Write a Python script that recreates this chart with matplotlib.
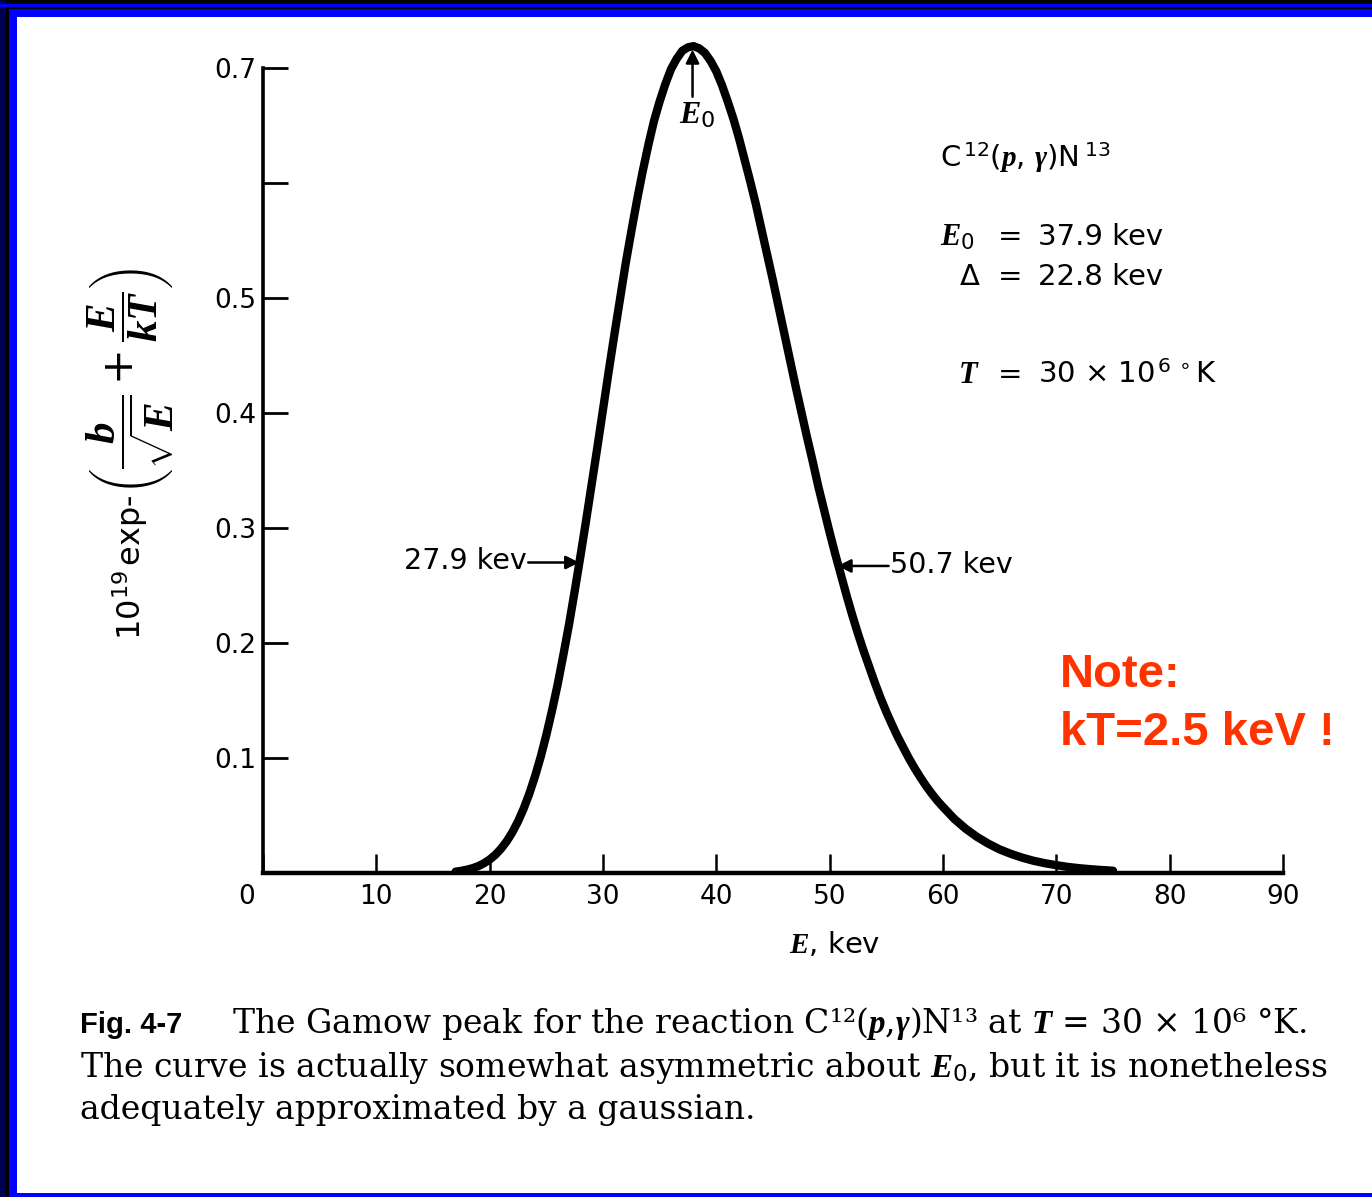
import matplotlib
matplotlib.use("Agg")
import matplotlib.pyplot as plt
import matplotlib.transforms as mtransforms
from matplotlib.patches import Rectangle

plt.rcParams['font.family'] = ['DejaVu Sans']
plt.rcParams['mathtext.fontset'] = 'custom'
plt.rcParams['mathtext.rm'] = 'DejaVu Sans'
plt.rcParams['mathtext.sf'] = 'DejaVu Sans'
plt.rcParams['mathtext.it'] = 'Liberation Serif:italic:bold'
plt.rcParams['mathtext.bf'] = 'Liberation Serif:bold'

# Gamow peak for C12(p,gamma)N13 at T = 30e6 K  (energy in keV, 1e19 * exp-(b/sqrt(E) + E/kT))
energy_kev = [17, 17.5, 18, 18.5, 19, 19.5, 20, 20.5, 21, 21.5, 22, 22.5, 23, 23.5,
              24, 24.5, 25, 25.5, 26, 26.5, 27, 27.5, 28, 28.5, 29, 29.5, 30, 30.5,
              31, 31.5, 32, 32.5, 33, 33.5, 34, 34.5, 35, 35.5, 36, 36.5, 37, 37.5,
              38, 38.5, 39, 39.5, 40, 40.5, 41, 41.5, 42, 42.5, 43, 43.5, 44, 44.5,
              45, 45.5, 46, 46.5, 47, 47.5, 48, 48.5, 49, 49.5, 50, 50.5, 51, 51.5,
              52, 52.5, 53, 53.5, 54, 54.5, 55, 55.5, 56, 56.5, 57, 57.5, 58, 58.5,
              59, 59.5, 60, 61, 62, 63, 64, 65, 66, 67, 68, 69, 70, 71, 72, 73, 74,
              75]
gamow = [0.0012, 0.0019, 0.0029, 0.0042, 0.0060, 0.0085, 0.0117, 0.0158, 0.0211,
         0.0275, 0.0354, 0.0448, 0.0560, 0.0690, 0.0840, 0.1009, 0.120, 0.1412,
         0.164, 0.1895, 0.216, 0.245, 0.275, 0.306, 0.338, 0.370, 0.403, 0.436,
         0.468, 0.499, 0.530, 0.558, 0.585, 0.610, 0.633, 0.654, 0.671, 0.686,
         0.699, 0.708, 0.715, 0.718, 0.719, 0.717, 0.713, 0.706, 0.697, 0.685,
         0.671, 0.656, 0.639, 0.620, 0.601, 0.581, 0.559, 0.537, 0.515, 0.492,
         0.469, 0.446, 0.423, 0.401, 0.379, 0.358, 0.336, 0.316, 0.296, 0.277,
         0.259, 0.241, 0.224, 0.208, 0.193, 0.179, 0.165, 0.152, 0.140, 0.129,
         0.1185, 0.109, 0.0996, 0.0911, 0.0832, 0.0758, 0.0691, 0.0629, 0.0574,
         0.0470, 0.0385, 0.0314, 0.0255, 0.0205, 0.0166, 0.0133, 0.0106, 0.0085,
         0.0068, 0.0053, 0.0042, 0.0033, 0.0026, 0.0020]

x_ticks = [0, 10, 20, 30, 40, 50, 60, 70, 80, 90]
x_tick_labels = ['0', '10', '20', '30', '40', '50', '60', '70', '80', '90']
y_ticks = [0.1, 0.2, 0.3, 0.4, 0.5, 0.6, 0.7]
y_tick_labels = ['0.1', '0.2', '0.3', '0.4', '0.5', '', '0.7']

e_peak = 37.9
e_low, e_high = 27.9, 50.7
level_1e = 0.27

W, H = 1372, 1197
fig = plt.figure(figsize=(W / 100, H / 100), dpi=100)
fig.patch.set_facecolor('black')


def px_rect(x0, y0, x1, y1, color, z):
    fig.add_artist(Rectangle((x0 / W, 1 - y1 / H), (x1 - x0) / W, (y1 - y0) / H,
                             transform=fig.transFigure, facecolor=color,
                             edgecolor='none', zorder=z))


def ftext(x, y, s, **kw):
    return fig.text(x / W, 1 - y / H, s, **kw)


# slide frame
px_rect(0, 0, 6, H, '#000050', -30)
px_rect(0, 4, W, 6.5, '#0000ff', -29)
px_rect(9, 9, W, H, '#0000ff', -28)
px_rect(17, 16.5, W, 1193, 'white', -27)

# axes: E = 0..90 between x=263 and x=1283 px, y = 0 at 873 px, 1150 px per unit
y_scale = 1150.0
y_top = 0.75
ax = fig.add_axes([263 / W, (H - 873) / H, 1020 / W, y_top * y_scale / H])
ax.set_facecolor('none')
ax.set_xlim(0, 90)
ax.set_ylim(0, y_top)

ax.plot(energy_kev, gamow, color='black', lw=6.0, solid_joinstyle='round',
        solid_capstyle='round', zorder=3)

for side in ('top', 'right'):
    ax.spines[side].set_visible(False)
ax.spines['left'].set_bounds(0, 0.7)
ax.spines['left'].set_linewidth(2.6)
ax.spines['bottom'].set_linewidth(3.2)

ax.set_xticks(x_ticks)
ax.set_xticklabels(x_tick_labels)
ax.set_yticks(y_ticks)
ax.set_yticklabels(y_tick_labels)
ax.tick_params(axis='x', direction='in', length=14, width=1.8, pad=8, labelsize=19)
ax.tick_params(axis='y', direction='in', length=18, width=2.0, pad=5, labelsize=19)

# the origin label sits just left of the corner
lbl0 = ax.get_xticklabels()[0]
lbl0.set_transform(lbl0.get_transform() +
                   mtransforms.ScaledTranslation(-16 / 100, 0, fig.dpi_scale_trans))

# peak and 1/e markers
arrow_kw = dict(arrowstyle='-|>', color='black', lw=1.8, mutation_scale=20,
                shrinkA=0, shrinkB=0)
ax.annotate('', xy=(e_peak, 0.716), xytext=(e_peak, 0.675), arrowprops=arrow_kw, zorder=4)
ax.text(38.3, 0.659, r'$E_{\mathsf{0}}$', fontsize=23, ha='center', va='center')

ax.annotate('', xy=(e_low, level_1e), xytext=(23.4, level_1e), arrowprops=arrow_kw)
ax.text(23.3, level_1e + 0.001, '27.9 kev', fontsize=20.5, ha='right', va='center')

ax.annotate('', xy=(e_high, level_1e - 0.003), xytext=(55.2, level_1e - 0.003),
            arrowprops=arrow_kw)
ax.text(55.3, level_1e - 0.002, '50.7 kev', fontsize=20.5, ha='left', va='center')

# reaction parameters
par_kw = dict(fontsize=21, ha='left', va='center')
ftext(940, 158, r'C$^{\,12}$($p$, $\gamma$)N$^{\;13}$', **par_kw)
ftext(940, 237, r'$E_{\mathsf{0}}$', fontsize=22, ha='left', va='center')
ftext(960, 277, 'Δ', **par_kw)
ftext(958, 375, r'$T$', fontsize=22, ha='left', va='center')
for y in (237, 277, 375):
    ftext(998, y, '=', **par_kw)
ftext(1038, 237, '37.9 kev', **par_kw)
ftext(1038, 277, '22.8 kev', **par_kw)
ftext(1038, 375, r'30 × 10$^{\,6\;\circ}$K', **par_kw)

ftext(1060, 675, 'Note:', fontsize=34, fontweight='bold', color='#ff3300',
      family='Liberation Sans', ha='left', va='center')
ftext(1060, 733, 'kT=2.5 keV !', fontsize=34, fontweight='bold', color='#ff3300',
      family='Liberation Sans', ha='left', va='center')

# axis titles
ftext(130, 640, r'$\mathsf{10^{19}\,exp}$-', fontsize=23, rotation=90,
      ha='center', va='bottom')
ftext(130, 495, r'$\left(\dfrac{b}{\sqrt{E}}+\dfrac{E}{kT}\right)$', fontsize=31,
      rotation=90, ha='center', va='bottom')
ftext(835, 945, r'$E$, kev', fontsize=21, ha='center', va='center')

# figure caption
cap_kw = dict(fontsize=23.8, family='DejaVu Serif', ha='left', va='baseline')
ftext(80, 1033, 'Fig. 4-7', fontsize=21, fontweight='bold', family='Liberation Sans',
      ha='left', va='baseline')
ftext(232, 1033, r'The Gamow peak for the reaction C¹²($p$,$\gamma$)N¹³ at $T$ = 30 × 10⁶ °K.',
      **cap_kw)
ftext(80, 1077, r'The curve is actually somewhat asymmetric about $E_0$, but it is nonetheless',
      **cap_kw)
ftext(80, 1119, 'adequately approximated by a gaussian.', **cap_kw)

fig.savefig('out.png', dpi=100, facecolor=fig.get_facecolor())
